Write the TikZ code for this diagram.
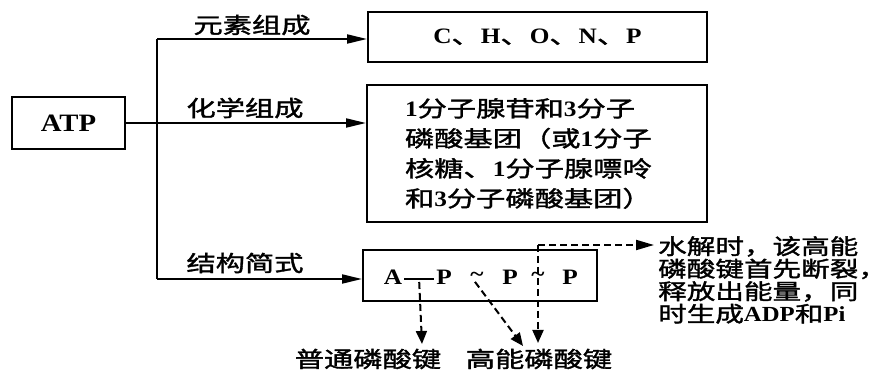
\documentclass[tikz,border=0pt]{standalone}
\usepackage{fontspec}
\newfontfamily\cjk[FakeStretch=1.33,FakeBold=1.6]{Noto Sans CJK SC}
\newfontfamily\lat[FakeStretch=1.15]{Liberation Serif}
\newcommand\LB[1]{{\lat\bfseries #1}}
\usetikzlibrary{arrows.meta}
\begin{document}
\begin{tikzpicture}[x=1pt,y=-1pt,
  box/.style={draw, line width=2pt, inner sep=0pt},
  cj/.style={font=\fontsize{22}{30}\selectfont\cjk, inner sep=0pt},
  arr/.style={line width=2pt, -{Triangle[length=20pt,width=9pt]}},
  link/.style={line width=2pt},
  darr/.style={line width=2pt, dash pattern=on 7pt off 4pt, -{Triangle[length=13pt,width=11pt]}},
  sym/.style={font=\fontsize{22}{22}\selectfont\lat\bfseries, inner sep=0pt}
]
\useasboundingbox (0,0) rectangle (889,371);
\fill[white] (0,0) rectangle (889,371);

% boxes
\node[box, minimum width=113pt, minimum height=52pt, font=\fontsize{25}{25}\selectfont\lat\bfseries] (atp) at (68.5,123) {ATP};
\node[box, cj, minimum width=339pt, minimum height=50pt] (elem) at (537.5,37) {\LB{C}、\LB{H}、\LB{O}、\LB{N}、\LB{P}};
\node[box, cj, minimum width=340pt, minimum height=137pt, text width=264pt, inner xsep=38pt, align=left] (comp) at (537,153.5)
  {\LB{1}分子腺苷和\LB{3}分子\\磷酸基团（或\LB{1}分子\\核糖、\LB{1}分子腺嘌呤\\和\LB{3}分子磷酸基团）};
\node[box, minimum width=234pt, minimum height=51pt] (struct) at (480,275.5) {};

% labels on branches
\node[cj] (l1) at (252,25) {元素组成};
\node[cj] (l2) at (245,108) {化学组成};
\node[cj] (l3) at (245,263) {结构简式};

% branch lines
\coordinate (j1) at (157,39);
\coordinate (j3) at (157,279);
\draw[link] (j1) -- (j3);
\draw[arr] (j1) -- (j1 -| elem.west);
\draw[arr] (atp.east) -- (atp.east -| comp.west);
\draw[arr] (j3) -- (j3 -| struct.west);

% structural formula
\node[sym] (sA) at (393,277) {A};
\node[sym] (sP1) at (444,277) {P};
\node[sym] (w1) at (477,277) {\textasciitilde};
\node[sym] (sP2) at (510,277) {P};
\node[sym] (w2) at (538,277) {\textasciitilde};
\node[sym] (sP3) at (570,277) {P};
\draw[line width=1.6pt] ([xshift=2pt,yshift=-2pt]sA.east) -- ([xshift=-2pt,yshift=-2pt]sP1.west) coordinate[pos=0.5] (b1);

% bottom labels
\node[cj] (lab1) at (368,359) {普通磷酸键};
\node[cj] (lab2) at (539,359) {高能磷酸键};

% note
\node[font=\fontsize{21.5}{22.5}\selectfont\cjk, inner sep=0pt, align=left, anchor=north west] (note) at (658,236)
  {水解时，该高能\\磷酸键首先断裂，\\释放出能量，同\\时生成\LB{ADP}和\LB{Pi}};

% dashed arrows
\coordinate (e1) at (422,344);
\coordinate (e2) at (523,346);
\coordinate (e3) at (538,343);
\coordinate (c) at (538,245);
\draw[darr] ([yshift=-3pt]b1) -- (e1);
\draw[darr] ([xshift=-2pt]w1.south) -- (e2);
\draw[darr] (c) -- (e3);
\draw[line width=2pt, dash pattern=on 7pt off 4pt, -{Triangle[length=18pt,width=10pt]}, shorten >=4pt] (c) -- (c -| note.west);
\end{tikzpicture}
\end{document}
